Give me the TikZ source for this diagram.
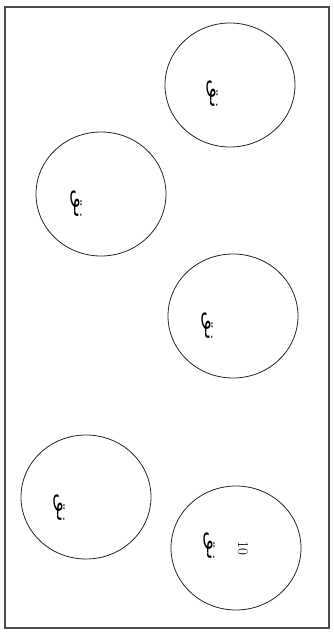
\documentclass[tikz,border=0pt]{standalone}
\usepackage{fontspec}
\usepackage{graphicx}
\TeXXeTstate=1
\newfontfamily\arabicfont[Script=Arabic]{DejaVu Sans}
\usetikzlibrary{shapes.geometric}
\tikzset{
  disc/.style={ellipse, draw=black!85, line width=0.8pt, minimum width=130pt, minimum height=124pt, inner sep=0pt},
  radlabel/.style={rotate=-90, inner sep=0pt, font=\arabicfont\fontsize{15}{15}\selectfont},
  numlabel/.style={rotate=-90, inner sep=0pt, font=\fontsize{15}{15}\selectfont},
}
% radius sign, drawn a little long as in the scan
\newcommand{\radtext}{\scalebox{1.7}[1]{\beginR نق\endR}}
\begin{document}
\begin{tikzpicture}[x=1pt, y=-1pt]
% page size, y runs downwards as in the scan
\useasboundingbox (0,0) rectangle (333,632);
% outer frame
\draw[black!70, line width=1.3pt] (5,7) rectangle (329,628);
% the five discs
\node[disc] (d1) at (230,85) {};
\node[disc] (d2) at (101,194) {};
\node[disc] (d3) at (233,316) {};
\node[disc] (d4) at (86,497) {};
\node[disc] (d5) at (236,548) {};
% labels inside the discs
\node[radlabel] (r1) at (212,94) {\radtext};
\node[radlabel] (r2) at (76,204) {\radtext};
\node[radlabel] (r3) at (207,326) {\radtext};
\node[radlabel] (r4) at (59,508) {\radtext};
\node[radlabel] (r5) at (209,546) {\radtext};
\node[numlabel] (n5) at (243,548) {10};
\end{tikzpicture}
\end{document}
